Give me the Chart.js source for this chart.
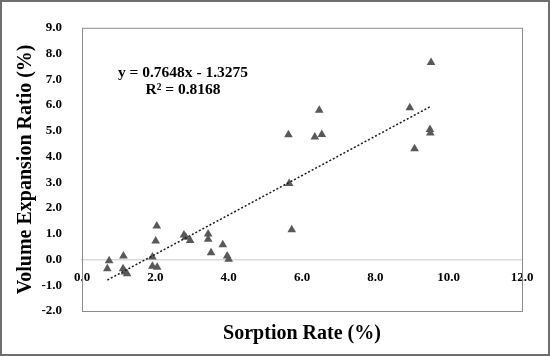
<!DOCTYPE html>
<html>
<head>
<meta charset="utf-8">
<script src="https://cdn.jsdelivr.net/npm/chart.js@4"></script>
<style>
html,body{margin:0;padding:0;background:#fff;}
#wrap{width:550px;height:356px;position:relative;}
</style>
</head>
<body>
<div id="wrap"><canvas id="c" width="550" height="356"></canvas></div>
<script>
// Data
const sorptionRate = [2.04, 2.01, 0.74, 0.69, 1.13, 1.12, 1.17, 1.23, 1.92, 1.92, 2.05,
  2.78, 2.83, 2.95, 3.44, 3.44, 3.52, 3.84, 3.96, 4.00,
  6.47, 5.63, 6.35, 6.54, 5.65, 5.72,
  8.94, 9.49, 9.50, 9.07, 9.52];
const expansionRatio = [1.30, 0.72, -0.05, -0.36, 0.14, -0.36, -0.49, -0.55, 0.10, -0.26, -0.30,
  0.95, 0.86, 0.74, 0.99, 0.79, 0.26, 0.57, 0.14, 0.01,
  5.80, 4.85, 4.76, 4.86, 2.95, 1.16,
  5.89, 5.05, 4.91, 4.30, 7.65];
const trendSlope = 0.7648;
const trendIntercept = -1.3275;
const trendX = [0.69, 9.52];
const equationLines = ["y = 0.7648x - 1.3275", "R\u00B2 = 0.8168"];
const xTitle = "Sorption Rate (%)";
const yTitle = "Volume Expansion Ratio (%)";

const points = sorptionRate.map((x, i) => ({x: x, y: expansionRatio[i]}));
const trend = trendX.map(x => ({x: x, y: trendSlope * x + trendIntercept}));

const SERIF = "'Liberation Serif', 'DejaVu Serif', serif";

const framePlugin = {
  id: 'frame',
  afterDraw(chart) {
    const ctx = chart.ctx;
    const a = chart.chartArea;
    ctx.save();
    ctx.strokeStyle = '#8c8c8c';
    ctx.lineWidth = 1;
    ctx.strokeRect(a.left + 0.5, a.top + 0.5, a.right - a.left, a.bottom - a.top);
    ctx.strokeStyle = '#6e6e6e';
    ctx.lineWidth = 2;
    ctx.strokeRect(1, 1, chart.width - 2, chart.height - 2);
    // equation text
    ctx.fillStyle = '#000';
    ctx.font = "bold 15.5px " + SERIF;
    ctx.textAlign = 'center';
    ctx.textBaseline = 'middle';
    const cx = a.left + 101;
    ctx.fillText(equationLines[0], cx, a.top + 45);
    ctx.fillText(equationLines[1], cx, a.top + 62);
    // x axis title
    ctx.font = "bold 20px " + SERIF;
    ctx.fillText(xTitle, (a.left + a.right) / 2, a.bottom + 23);
    ctx.restore();
  }
};

new Chart(document.getElementById('c'), {
  type: 'scatter',
  data: {
    datasets: [
      {
        label: 'data',
        data: points,
        pointStyle: 'triangle',
        pointRadius: 5,
        pointBackgroundColor: '#595959',
        pointBorderColor: '#595959',
        pointBorderWidth: 0,
        order: 1
      },
      {
        type: 'line',
        label: 'trend',
        data: trend,
        borderColor: '#1a1a1a',
        borderWidth: 1.5,
        borderDash: [2, 2],
        pointRadius: 0,
        fill: false,
        order: 0
      }
    ]
  },
  options: {
    responsive: false,
    animation: false,
    devicePixelRatio: 1,
    layout: {padding: {top: 17, right: 28, left: 0, bottom: 45}},
    plugins: {
      legend: {display: false},
      tooltip: {enabled: false},
      title: {display: false}
    },
    scales: {
      x: {
        type: 'linear',
        position: {y: 0},
        min: 0, max: 12,
        grid: {display: false, drawTicks: false},
        border: {display: true, color: '#d9d9d9', width: 1.5},
        ticks: {
          stepSize: 2,
          padding: 10,
          color: '#000',
          font: {family: SERIF, size: 13, weight: 'bold'},
          callback: v => Number(v).toFixed(1),
          maxRotation: 0
        }
      },
      y: {
        type: 'linear',
        position: 'left',
        min: -2, max: 9,
        grid: {display: false, drawTicks: false},
        border: {display: false},
        ticks: {
          stepSize: 1,
          padding: 20,
          color: '#000',
          font: {family: SERIF, size: 13, weight: 'bold'},
          callback: v => Number(v).toFixed(1)
        },
        title: {
          display: true,
          text: yTitle,
          color: '#000',
          font: {family: SERIF, size: 20, weight: 'bold', lineHeight: 1.2},
          padding: {top: 14, bottom: 0}
        },
        afterFit(scale) { scale.width = 82; }
      }
    }
  },
  plugins: [framePlugin]
});
</script>
</body>
</html>
